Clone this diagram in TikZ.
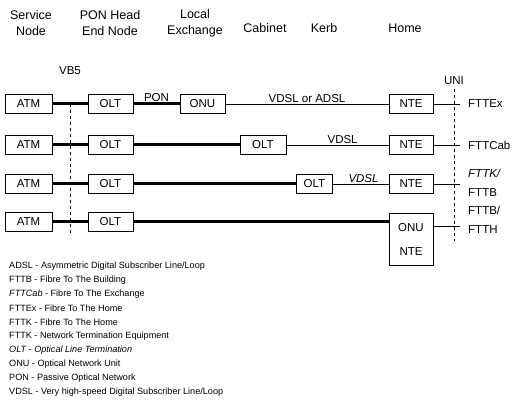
\documentclass[tikz,border=0pt]{standalone}
\usepackage{fontspec}
\setmainfont{Liberation Sans}
\usetikzlibrary{positioning}

\begin{document}
\begin{tikzpicture}[
        x=1pt, y=-1pt,
        box/.style={draw, line width=0.8pt, minimum width=46pt, minimum height=19pt,
            inner sep=1pt, font=\fontsize{11.5}{13}\selectfont},
        fibre/.style={line width=3pt},
        copper/.style={line width=0.8pt},
        bound/.style={line width=0.7pt, dash pattern=on 3pt off 3pt},
        hdr/.style={font=\fontsize{12.5}{16}\selectfont, align=center},
        lbl/.style={font=\fontsize{11.5}{13}\selectfont, inner sep=1pt},
        rlbl/.style={font=\fontsize{11.5}{19}\selectfont, anchor=west, align=left, inner sep=0pt},
        leg/.style={font=\fontsize{9.1}{11}\selectfont, anchor=west, inner sep=0pt},
    ]
    \useasboundingbox (0,0) rectangle (516,411);

    %% ---- Column headings ----
    \node[hdr] (svc)  at (31, 23)  {Service\\Node};
    \node[hdr] (pon)  at (110, 23) {PON Head\\End Node};
    \node[hdr] (lex)  at (195, 23) {Local\\Exchange};
    \node[hdr] (cab)  at (265, 28) {Cabinet};
    \node[hdr] (kerb) at (324, 28) {Kerb};
    \node[hdr] (home) at (405, 28) {Home};

    %% ---- Service node and head end, one per row ----
    \foreach \r/\y in {1/104, 2/145, 3/184, 4/222} {
        \node[box, minimum width=47pt] (atm\r) at (28.5, \y) {ATM};
        \node[box, minimum width=45pt] (olt\r) at (110.5, \y) {OLT};
        \draw[fibre] (atm\r) -- (olt\r);
    }

    %% ---- Row 1: FTTEx ----
    \node[box, minimum width=45pt] (onu1) at (202.5, 104) {ONU};
    \node[box, minimum width=44pt] (nte1) at (411, 104) {NTE};
    \draw[fibre] (olt1) -- (onu1) node[midway, above, lbl] {PON};
    \draw[copper] (onu1) -- (nte1) node[midway, above, lbl] {VDSL or ADSL};

    %% ---- Row 2: FTTCab ----
    \node[box] (cabolt) at (263, 145) {OLT};
    \node[box, minimum width=44pt] (nte2) at (411, 145) {NTE};
    \draw[fibre] (olt2) -- (cabolt);
    \draw[copper] (cabolt) -- (nte2) node[pos=0.55, above, lbl] {VDSL};

    %% ---- Row 3: FTTK / FTTB ----
    \node[box, minimum width=36pt] (kerbolt) at (314.5, 184) {OLT};
    \node[box, minimum width=44pt] (nte3) at (411, 184) {NTE};
    \draw[fibre] (olt3) -- (kerbolt);
    \draw[copper] (kerbolt) -- (nte3) node[pos=0.55, above, lbl, font=\fontsize{11.5}{13}\itshape] {VDSL};

    %% ---- Row 4: FTTB / FTTH ----
    \node[box, minimum width=44pt, minimum height=52pt, align=center,
        font=\fontsize{11.5}{24}\selectfont] (onunte) at (411, 239) {ONU\\NTE};
    \draw[fibre] (olt4) -- (onunte.west |- olt4.east);

    %% ---- User side ----
    \coordinate (u1) at (460, 104);
    \coordinate (u2) at (460, 145);
    \coordinate (u3) at (460, 184);
    \coordinate (u4) at (460, 226);
    \draw[copper] (nte1) -- (u1);
    \draw[copper] (nte2) -- (u2);
    \draw[copper] (nte3) -- (u3);
    \draw[copper] (onunte.east |- u4) -- (u4);
    \node[rlbl] (fttex) at (468, 104) {FTTEx};
    \node[rlbl] (fttcab) at (468, 145) {FTTCab};
    \node[rlbl] (fttk) at (468, 183) {\itshape FTTK/\\FTTB};
    \node[rlbl] (ftth) at (468, 220) {FTTB/\\FTTH};

    %% ---- Reference points ----
    \node[lbl] (vb5) at (70, 71) {VB5};
    \coordinate (vb5top) at (70, 104);
    \coordinate (vb5bot) at (70, 236);
    \draw[bound] (vb5top) -- (vb5bot);
    \node[lbl] (uni) at (454, 81) {UNI};
    \coordinate (unitop) at (454, 89);
    \coordinate (unibot) at (454, 241);
    \draw[bound] (unitop) -- (unibot);

    %% ---- Legend ----
    \foreach \txt [count=\i] in {
        ADSL - Asymmetric Digital Subscriber Line/Loop,
        FTTB - Fibre To The Building,
        {\itshape FTTCab}\ - Fibre To The Exchange,
        FTTEx - Fibre To The Home,
        FTTK - Fibre To The Home,
        FTTK - Network Termination Equipment,
        {\itshape OLT - Optical Line Termination},
        ONU - Optical Network Unit,
        PON - Passive Optical Network,
        VDSL - Very high-speed Digital Subscriber Line/Loop
    } { \node[leg] (leg\i) at (9, 252 + 14*\i) {\txt}; }

\end{tikzpicture}
\end{document}
